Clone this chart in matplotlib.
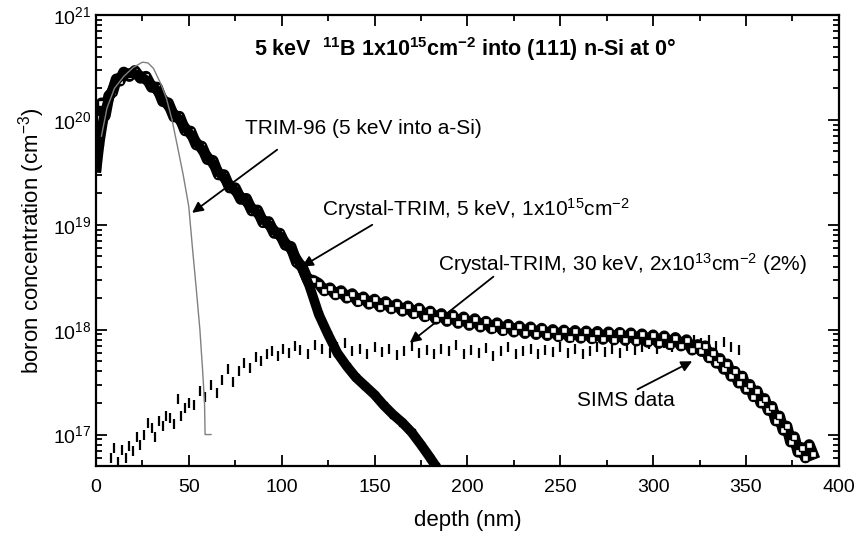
# Boron implant profile: 5 keV B into (111) Si, SIMS vs TRIM / Crystal-TRIM

import numpy as np
import matplotlib.pyplot as plt
from matplotlib.ticker import MultipleLocator, LogLocator

plt.rcParams['font.family'] = ['Liberation Sans', 'DejaVu Sans']
plt.rcParams['mathtext.fontset'] = 'custom'
plt.rcParams['mathtext.rm'] = 'Liberation Sans'
plt.rcParams['mathtext.bf'] = 'Liberation Sans:bold'
plt.rcParams['mathtext.default'] = 'regular'

# SIMS data (open squares)
sims_depth = [1, 2, 3, 5, 7, 9, 11, 13, 15, 18, 21, 24, 27, 30, 33, 36, 39, 42, 45, 48,
              51, 54, 57, 60, 63, 66, 69, 72, 75, 78, 81, 84, 87, 90, 93, 96, 99, 102, 105, 108,
              111, 114, 117, 120, 123, 126, 129, 132, 135, 138, 141, 144, 147, 150, 153, 156, 159, 162, 165, 168,
              171, 174, 177, 180, 183, 186, 189, 192, 195, 198, 201, 204, 207, 210, 213, 216, 219, 222, 225, 228,
              231, 234, 237, 240, 243, 246, 249, 252, 255, 258, 261, 264, 267, 270, 273, 276, 279, 282, 285, 288,
              291, 294, 297, 300, 303, 306, 309, 312, 315, 318, 321, 324, 326, 328, 330, 332, 334, 336, 338, 340,
              342, 344, 346, 348, 350, 352, 354, 356, 358, 360, 362, 364, 366, 368, 370, 372, 374, 376, 378, 380,
              382, 384, 386]
sims_conc = [5.5e19, 1.05e20, 1.45e20, 1.1e20, 1.7e20, 1.85e20, 2.45e20, 2.35e20, 2.85e20, 2.6e20,
             2.95e20, 2.5e20, 2.6e20, 2.05e20, 2.05e20, 1.5e20, 1.45e20, 1.07e20, 1.08e20, 7.9e19,
             7.8e19, 5.8e19, 5.6e19, 4.2e19, 4.1e19, 3.0e19, 3.0e19, 2.25e19, 2.25e19, 1.75e19,
             1.78e19, 1.36e19, 1.38e19, 1.05e19, 1.07e19, 8.3e18, 8.3e18, 6.4e18, 6.2e18, 4.4e18,
             4.0e18, 3.0e18, 2.95e18, 2.75e18, 2.35e18, 2.5e18, 2.15e18, 2.35e18, 2.0e18, 2.2e18,
             1.85e18, 2.05e18, 1.75e18, 1.95e18, 1.65e18, 1.85e18, 1.58e18, 1.75e18, 1.5e18, 1.68e18,
             1.42e18, 1.6e18, 1.33e18, 1.5e18, 1.26e18, 1.42e18, 1.2e18, 1.38e18, 1.15e18, 1.32e18,
             1.1e18, 1.27e18, 1.06e18, 1.2e18, 1.02e18, 1.16e18, 0.98e18, 1.12e18, 0.95e18, 1.08e18,
             0.92e18, 1.06e18, 0.9e18, 1.03e18, 0.88e18, 1.0e18, 0.86e18, 0.99e18, 0.84e18, 0.98e18,
             0.83e18, 0.97e18, 0.82e18, 0.96e18, 0.81e18, 0.95e18, 0.8e18, 0.94e18, 0.79e18, 0.93e18,
             0.78e18, 0.91e18, 0.76e18, 0.89e18, 0.74e18, 0.87e18, 0.72e18, 0.84e18, 0.7e18, 0.8e18,
             0.64e18, 0.72e18, 6.2e17, 7.0e17, 5.4e17, 6.0e17, 4.8e17, 5.3e17, 4.2e17, 4.7e17,
             3.6e17, 4.0e17, 3.1e17, 3.6e17, 2.7e17, 3.0e17, 2.3e17, 2.6e17, 2.0e17, 2.2e17,
             1.7e17, 1.85e17, 1.35e17, 1.5e17, 1.1e17, 1.2e17, 8.5e16, 9.5e16, 6.8e16, 7.5e16,
             6.0e16, 8.0e16, 6.5e16]

# Crystal-TRIM, 5 keV, 1e15 cm^-2 (filled band)
ct5_depth = [0.5, 2, 4, 6, 8, 10, 12, 15, 18, 21, 24, 27, 30, 33, 36, 39, 42, 45, 48, 51,
             54, 57, 60, 63, 66, 69, 72, 75, 78, 81, 84, 87, 90, 93, 96, 99, 102, 105, 110, 115,
             120, 125, 130, 135, 140, 145, 150, 155, 160, 165, 170, 175, 180, 183]
ct5_conc = [3.5e19, 6e19, 1.0e20, 1.4e20, 1.8e20, 2.2e20, 2.5e20, 2.7e20, 2.8e20, 2.75e20,
            2.6e20, 2.4e20, 2.15e20, 1.9e20, 1.6e20, 1.35e20, 1.15e20, 1.0e20, 8.5e19, 7.2e19,
            6.2e19, 5.2e19, 4.5e19, 3.8e19, 3.2e19, 2.8e19, 2.4e19, 2.1e19, 1.86e19, 1.66e19,
            1.45e19, 1.29e19, 1.12e19, 1.0e19, 8.9e18, 7.8e18, 6.8e18, 5.8e18, 4.2e18, 2.6e18,
            1.4e18, 9e17, 6e17, 4.5e17, 3.5e17, 2.9e17, 2.4e17, 1.9e17, 1.55e17, 1.3e17,
            1.05e17, 8e16, 6e16, 5e16]

# TRIM-96 (amorphous Si)
trim_depth = [3, 6, 10, 15, 20, 25, 28, 31, 35, 38, 41, 44, 47, 50, 52, 54, 56, 57.5, 58.5, 58.8, 62]
trim_conc = [7e19, 1.3e20, 2.0e20, 2.6e20, 3.15e20, 3.55e20, 3.5e20, 3.1e20, 2.2e20, 1.6e20,
             1.0e20, 5.5e19, 3e19, 1.5e19, 6e18, 2.5e18, 1e18, 4e17, 2e17, 1e17, 1e17]

# Crystal-TRIM, 30 keV, 2e13 cm^-2 (2 %), in units of 1e17
ct30_depth = [8, 10, 12, 14, 16, 18, 20, 22, 24, 26, 28, 30, 32, 34, 36, 38, 40, 42, 44, 46,
              48, 50, 53, 56, 59, 62, 65, 68, 71, 74, 77, 80, 83, 86, 89, 92, 95, 98, 101, 104,
              107, 110, 114, 118, 122, 126, 130, 134, 138, 142, 146, 150, 154, 158, 162, 166, 170, 174, 178, 182,
              186, 190, 194, 198, 202, 206, 210, 214, 218, 222, 226, 230, 234, 238, 242, 246, 250, 254, 258, 262,
              266, 270, 274, 278, 282, 286, 290, 294, 298, 302, 306, 310, 314, 318, 322, 326, 330, 334, 338, 342,
              346]
ct30_conc = [0.6, 0.75, 0.55, 0.72, 0.6, 0.78, 0.7, 0.95, 0.8, 1.0, 1.3, 1.15, 0.95, 1.35, 1.2, 1.5, 1.45, 1.25, 2.2, 1.5,
             1.8, 2.0, 1.9, 2.6, 2.3, 3.0, 2.5, 3.3, 4.2, 3.2, 4.0, 4.8, 4.3, 5.5, 5.0, 5.9, 6.3, 5.6, 6.5, 6.0,
             7.0, 6.4, 5.8, 7.2, 6.5, 6.0, 6.8, 7.4, 6.2, 6.6, 5.9, 6.9, 6.1, 6.5, 5.7, 6.3, 7.0, 6.0, 6.4, 5.8,
             6.6, 6.2, 7.1, 5.9, 6.4, 6.0, 6.7, 5.6, 6.3, 6.8, 5.9, 6.2, 6.6, 5.8, 6.4, 6.1, 6.9, 6.0, 6.5, 5.9,
             6.3, 6.8, 6.1, 6.6, 6.0, 7.0, 6.4, 6.9, 7.3, 6.6, 7.5, 6.9, 7.8, 7.2, 8.0, 7.4, 7.9, 7.0, 7.6, 6.8,
             6.4]
ct30_conc = np.array(ct30_conc) * 1e17

fig, ax = plt.subplots(figsize=(8.56, 5.37), dpi=100)
fig.subplots_adjust(left=0.112, right=0.980, top=0.972, bottom=0.132)

ax.plot(ct30_depth, ct30_conc, ls='none', marker='|', ms=7, mew=1.6, color='k', zorder=2)
ax.plot(sims_depth, sims_conc, color='k', lw=8, zorder=3)
ax.plot(sims_depth, sims_conc, ls='none', marker='s', ms=5, mfc='white', mec='k', mew=1.0, zorder=4)
ax.plot(ct5_depth, ct5_conc, color='k', lw=7, marker='s', ms=4, zorder=5)
ax.plot(trim_depth, trim_conc, color='#808080', lw=1.0, zorder=6)

ax.set_yscale('log')
ax.set_xlim(0, 400)
ax.set_ylim(5e16, 1e21)
ax.xaxis.set_major_locator(MultipleLocator(50))
ax.xaxis.set_minor_locator(MultipleLocator(25))
ax.yaxis.set_major_locator(LogLocator(base=10, numticks=10))
ax.yaxis.set_minor_locator(LogLocator(base=10, subs=np.arange(2, 10), numticks=20))
ax.tick_params(which='both', direction='in', top=True, right=True, labelsize=14, width=1.3)
ax.tick_params(which='major', length=8)
ax.tick_params(which='minor', length=4)
ax.tick_params(axis='x', pad=9)
for s in ax.spines.values():
    s.set_linewidth(1.6)

ax.set_xlabel("depth (nm)", fontsize=16, labelpad=10)
ax.set_ylabel("boron concentration (cm$^{-3}$)", fontsize=16)

ax.text(199, 4.7e20, r"5 keV  $^{\mathbf{11}}$B 1x10$^{\mathbf{15}}$cm$^{\mathbf{-2}}$ into (111) n-Si at 0°",
        fontsize=15.5, fontweight='bold', ha='center', va='center')

arrow = dict(arrowstyle='-|>', color='k', lw=1.3, mutation_scale=16, shrinkA=0, shrinkB=0)
ax.text(80.3, 8.2e19, "TRIM-96 (5 keV into a-Si)", fontsize=15, va='center')
ax.annotate("", xy=(51.8, 1.3e19), xytext=(97.6, 5.2e19), arrowprops=arrow)
ax.text(121.8, 1.4e19, "Crystal-TRIM, 5 keV, 1x10$^{15}$cm$^{-2}$", fontsize=15, va='center')
ax.annotate("", xy=(111, 4e18), xytext=(148.8, 1e19), arrowprops=arrow)
ax.text(184.4, 4.2e18, "Crystal-TRIM, 30 keV, 2x10$^{13}$cm$^{-2}$ (2%)", fontsize=15, va='center')
ax.annotate("", xy=(169, 7.5e17), xytext=(214, 3.2e18), arrowprops=arrow)
ax.text(259, 2.1e17, "SIMS data", fontsize=15, va='center')
ax.annotate("", xy=(321, 5e17), xytext=(291.6, 2.7e17), arrowprops=arrow)

plt.savefig("out.png", dpi=100)
